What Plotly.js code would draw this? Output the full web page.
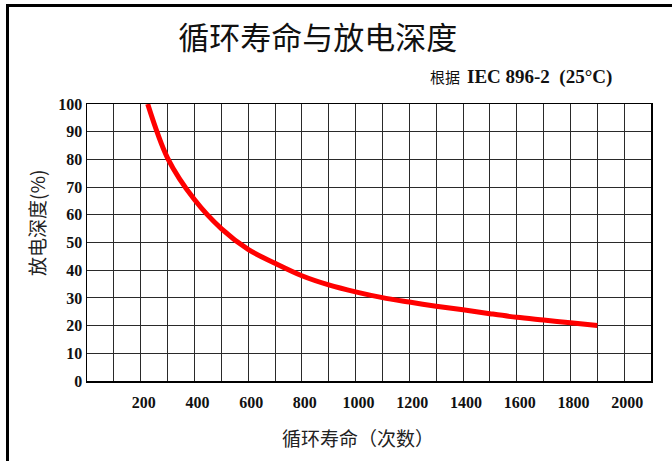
<!DOCTYPE html>
<html>
<head>
<meta charset="utf-8">
<script src="https://cdn.plot.ly/plotly-3.0.1.min.js"></script>
<style>
  html, body { margin: 0; padding: 0; background: #fff; overflow: hidden; }
  #chart { width: 672px; height: 461px; }
  #frame { position: absolute; left: 6px; top: 4px; width: 700px; height: 500px;
           border-left: 3px solid #000; border-top: 3px solid #000; pointer-events: none; }
</style>
</head>
<body>
<div id="chart"></div>
<div id="frame"></div>
<script>
// Data
const cycles = [226, 300, 400, 500, 600, 700, 800, 900, 1000, 1100, 1200, 1300, 1400, 1500, 1600, 1700, 1800, 1900];
const dod    = [100, 80.5, 65.5, 55, 47.5, 42.5, 38, 34.7, 32.2, 30.1, 28.5, 27.0, 25.7, 24.3, 23.0, 22.0, 21.0, 20.0];
const xTickVals = [200, 400, 600, 800, 1000, 1200, 1400, 1600, 1800, 2000];
const xTickText = ['200', '400', '600', '800', '1000', '1200', '1400', '1600', '1800', '2000'];
const yTickVals = [0, 10, 20, 30, 40, 50, 60, 70, 80, 90, 100];
const titleText = '循环寿命与放电深度';
const subPrefix = '根据';
const subText = 'IEC 896-2  (25°C)';
const xTitle = '循环寿命（次数）';
const yTitle = '放电深度(%)';

const gridColor = '#2a2a2a';
const numFont = {family: 'Liberation Serif, Times New Roman, serif', size: 16, color: '#111', weight: 'bold'};
const cjk = 'Noto Sans CJK SC, sans-serif';

const trace = {
  x: cycles, y: dod, type: 'scatter', mode: 'lines',
  line: {color: '#ff0000', width: 5, shape: 'spline', smoothing: 0.9},
  hoverinfo: 'skip', showlegend: false
};

const layout = {
  width: 672, height: 461,
  margin: {l: 87, r: 21, t: 104, b: 80},
  paper_bgcolor: '#fff', plot_bgcolor: '#fff',
  title: {text: titleText, x: 0.473, xref: 'container', xanchor: 'center',
          y: 0.918, yref: 'container', yanchor: 'middle',
          font: {family: cjk, size: 31, color: '#111'}},
  xaxis: {
    range: [0, 2100], tickmode: 'array', tickvals: xTickVals, ticktext: xTickText,
    showgrid: true, gridcolor: gridColor, gridwidth: 1,
    minor: {dtick: 100, tick0: 0, showgrid: true, gridcolor: gridColor, gridwidth: 1, ticklen: 0},
    showline: true, linecolor: '#000', linewidth: 1.5, mirror: true,
    ticks: '', tickfont: numFont, ticklabelstandoff: 6, ticklabelshift: 3,
    zeroline: false, fixedrange: true
  },
  yaxis: {
    range: [0, 100], tickmode: 'array', tickvals: yTickVals,
    showgrid: true, gridcolor: gridColor, gridwidth: 1,
    showline: true, linecolor: '#000', linewidth: 1.5, mirror: true,
    ticks: '', tickfont: numFont, ticklabelstandoff: 0,
    zeroline: false, fixedrange: true
  },
  annotations: [
    {text: subPrefix, xref: 'paper', yref: 'paper', x: 0, y: 1, xanchor: 'right', yanchor: 'middle',
     xshift: 462 - 87, yshift: 104 - 76, showarrow: false,
     font: {family: cjk, size: 15, color: '#111'}},
    {text: subText, xref: 'paper', yref: 'paper', x: 0, y: 1, xanchor: 'left', yanchor: 'middle',
     xshift: 465 - 87, yshift: 104 - 77, showarrow: false,
     font: {family: 'Liberation Serif, Times New Roman, serif', size: 19, color: '#111', weight: 'bold'}},
    // x-axis title
    {text: xTitle, xref: 'paper', yref: 'paper', x: 0, y: 0, xanchor: 'center', yanchor: 'middle',
     xshift: 358 - 87, yshift: -(437 - 381), showarrow: false,
     font: {family: cjk, size: 19, color: '#222'}},
    // y-axis title
    {text: yTitle, xref: 'paper', yref: 'paper', x: 0, y: 1, xanchor: 'center', yanchor: 'middle',
     textangle: -90, xshift: 36 - 87, yshift: -(223 - 104), showarrow: false,
     font: {family: cjk, size: 19, color: '#222'}}
  ]
};

Plotly.newPlot('chart', [trace], layout, {staticPlot: true, displayModeBar: false});
</script>
</body>
</html>
